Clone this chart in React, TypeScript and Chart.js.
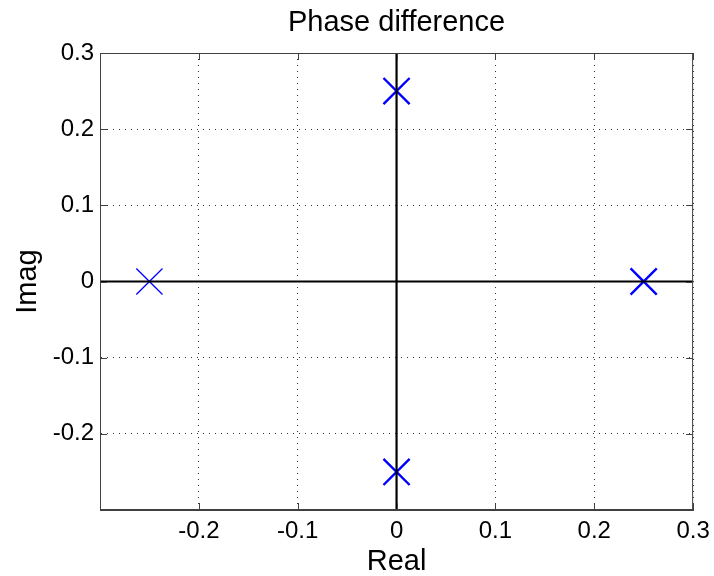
import React, { useEffect, useRef } from "react";
import { Chart, registerables } from "chart.js";

Chart.register(...registerables);

// Pole/zero locations on the complex plane
const realParts = [-0.25, 0, 0.25, 0];
const imagParts = [0, 0.25, 0, -0.25];
const markerWidths = [1.3, 2.4, 2.4, 2.4];

// Axis limits and tick step
const axisMin = -0.3;
const axisMax = 0.3;
const tickStep = 0.1;

const titleText = "Phase difference";
const xTitle = "Real";
const yTitle = "Imag";

const FONT = "'Liberation Sans', Arial, Helvetica, sans-serif";

const fmt = (v: number) => {
  const r = Math.round(v * 10) / 10;
  if (Math.abs(r - axisMin) < 1e-9) return "";
  return r === 0 ? "0" : String(r);
};

// Box outline plus inward tick marks on all four sides
const boxPlugin = {
  id: "boxTicks",
  afterDatasetsDraw(chart: any) {
    const { ctx, chartArea, scales } = chart;
    const { left, right, top, bottom } = chartArea;
    const len = 7;
    ctx.save();
    ctx.strokeStyle = "#404040";
    ctx.lineWidth = 1;
    ctx.beginPath();
    scales.x.ticks.forEach((t: any) => {
      const px = Math.round(scales.x.getPixelForValue(t.value)) + 0.5;
      ctx.moveTo(px, bottom);
      ctx.lineTo(px, bottom - len);
      ctx.moveTo(px, top);
      ctx.lineTo(px, top + len);
    });
    scales.y.ticks.forEach((t: any) => {
      const py = Math.round(scales.y.getPixelForValue(t.value)) + 0.5;
      ctx.moveTo(left, py);
      ctx.lineTo(left + len, py);
      ctx.moveTo(right, py);
      ctx.lineTo(right - len, py);
    });
    ctx.stroke();
    ctx.strokeRect(left + 0.5, top + 0.5, right - left - 1, bottom - top - 1);
    ctx.restore();
  },
};

export default function App() {
  const canvasRef = useRef<HTMLCanvasElement | null>(null);

  useEffect(() => {
    if (!canvasRef.current) return;
    Chart.defaults.color = "#000";
    const points = realParts.map((x, i) => ({ x, y: imagParts[i] }));
    const chart = new Chart(canvasRef.current, {
      type: "scatter",
      data: {
        datasets: [
          {
            type: "line",
            data: [
              { x: axisMin, y: 0 },
              { x: axisMax, y: 0 },
            ],
            borderColor: "#000",
            borderWidth: 2.2,
            pointRadius: 0,
            order: 0,
          },
          {
            type: "line",
            data: [
              { x: 0, y: axisMin },
              { x: 0, y: axisMax },
            ],
            borderColor: "#000",
            borderWidth: 2.2,
            pointRadius: 0,
            order: 0,
          },
          {
            data: points,
            pointStyle: "crossRot",
            pointRadius: 18.5,
            pointBorderWidth: markerWidths,
            pointBorderColor: "#0000ff",
            pointBackgroundColor: "#0000ff",
            order: 1,
          },
        ] as any,
      },
      options: {
        animation: false,
        responsive: false,
        layout: { padding: { left: 0, right: 13, top: 0, bottom: 0 } },
        plugins: {
          legend: { display: false },
          tooltip: { enabled: false },
          title: { display: false },
        },
        scales: {
          x: {
            type: "linear",
            min: axisMin,
            max: axisMax,
            afterFit: (s: any) => {
              s.height = 66;
              s.paddingLeft = 0;
              s.paddingRight = 0;
            },
            ticks: {
              stepSize: tickStep,
              padding: 7,
              maxRotation: 0,
              color: "#000",
              font: { family: FONT, size: 24 },
              callback: (v: any) => fmt(Number(v)),
            },
            grid: {
              color: "#333",
              lineWidth: 1,
              drawTicks: false,
            },
            border: { display: true, color: "#404040", width: 1, dash: [1, 5] },
            title: {
              display: true,
              text: xTitle,
              color: "#000",
              font: { family: FONT, size: 29, lineHeight: 1 },
              padding: { top: 0, bottom: 0 },
            },
          },
          // Top axis carries the chart title, centred over the plot box
          x2: {
            type: "linear",
            position: "top",
            min: axisMin,
            max: axisMax,
            afterFit: (s: any) => {
              s.height = 53;
              s.paddingLeft = 0;
              s.paddingRight = 0;
            },
            ticks: { display: false },
            grid: { display: false, drawTicks: false },
            border: { display: false },
            title: {
              display: true,
              text: titleText,
              color: "#000",
              font: { family: FONT, size: 29, lineHeight: 1 },
              padding: { top: 8, bottom: 0 },
            },
          },
          y: {
            type: "linear",
            min: axisMin,
            max: axisMax,
            afterFit: (s: any) => {
              s.width = 100;
              s.paddingTop = 0;
              s.paddingBottom = 0;
            },
            ticks: {
              stepSize: tickStep,
              padding: 6,
              color: "#000",
              font: { family: FONT, size: 24 },
              callback: (v: any) => fmt(Number(v)),
            },
            grid: {
              color: "#333",
              lineWidth: 1,
              drawTicks: false,
            },
            border: { display: true, color: "#404040", width: 1, dash: [1, 5] },
            title: {
              display: true,
              text: yTitle,
              color: "#000",
              font: { family: FONT, size: 29, lineHeight: 1 },
              padding: { top: 13, bottom: 0 },
            },
          },
        },
      } as any,
      plugins: [boxPlugin],
    });
    return () => chart.destroy();
  }, []);

  return (
    <div style={{ position: "fixed", left: 0, top: 0, width: 714, height: 576, background: "#fff" }}>
      <canvas ref={canvasRef} width={714} height={576} />
    </div>
  );
}
